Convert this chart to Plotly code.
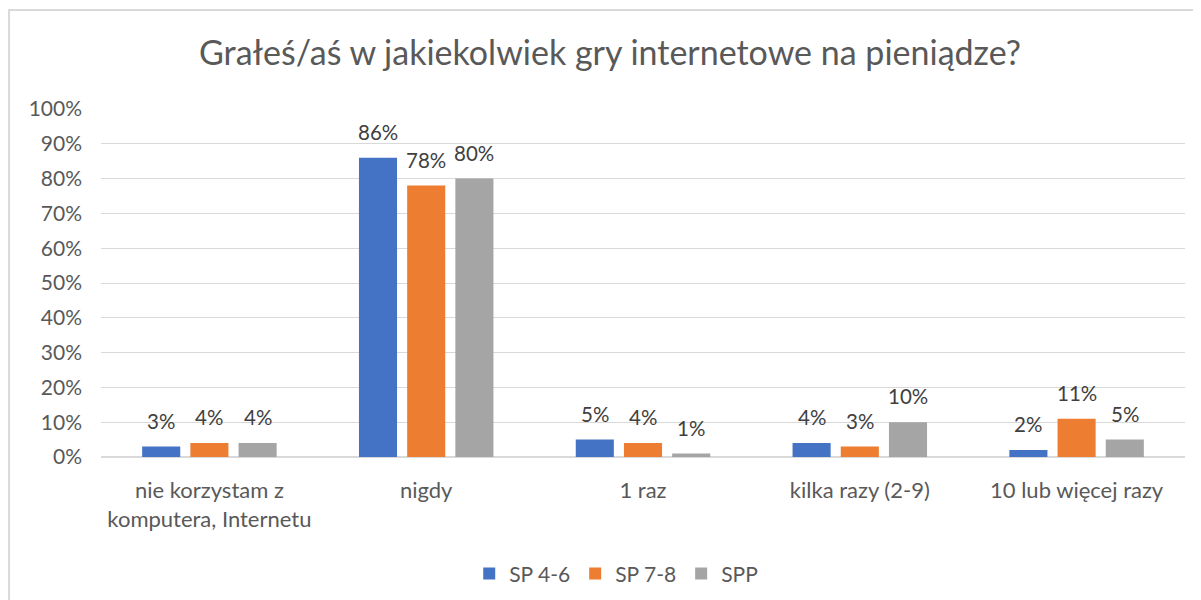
import plotly.graph_objects as go

categories = ["nie korzystam z<br>komputera, Internetu", "nigdy", "1 raz", "kilka razy (2-9)", "10 lub więcej razy"]
series_names = ["SP 4-6", "SP 7-8", "SPP"]
sp46 = [0.03, 0.86, 0.05, 0.04, 0.02]
sp78 = [0.04, 0.78, 0.04, 0.03, 0.11]
spp = [0.04, 0.80, 0.01, 0.10, 0.05]
colors = ["#4472C4", "#ED7D31", "#A5A5A5"]
y_ticks = [i / 10 for i in range(11)]

FONT = "Lato, Open Sans, sans-serif"
BARGAP = 0.333
BARGROUPGAP = 0.21

all_series = [sp46, sp78, spp]
fig = go.Figure()
for name, vals, col in zip(series_names, all_series, colors):
    fig.add_trace(go.Bar(
        x=categories, y=vals, name=name, marker=dict(color=col, line=dict(width=0)),
        hoverinfo="x+y+name",
    ))

# data labels as annotations above each bar
annotations = []
nser = len(all_series)
slot = (1 - BARGAP) / nser
for k, vals in enumerate(all_series):
    for i, v in enumerate(vals):
        annotations.append(dict(
            x=i + (k - (nser - 1) / 2) * slot, y=v, xref="x", yref="y",
            text=f"{round(v*100)}%", showarrow=False, yanchor="middle", yshift=26,
            font=dict(size=20.5, color="#404040", family=FONT),
        ))

fig.update_layout(
    width=1193, height=592,
    paper_bgcolor="white", plot_bgcolor="white",
    margin=dict(l=92.5, r=16, t=100.7, b=142.5, pad=0, autoexpand=False),
    title=dict(text="Grałeś/aś w jakiekolwiek gry internetowe na pieniądze?",
               x=0.5046, xanchor="center", y=0.924, yanchor="middle",
               font=dict(size=34, color="#595959", family=FONT)),
    barmode="group", bargap=BARGAP, bargroupgap=BARGROUPGAP,
    font=dict(family=FONT, color="#595959", size=21),
    legend=dict(orientation="h", x=0.4753, xanchor="center", y=-0.336, yanchor="middle",
                font=dict(size=21, color="#595959"), traceorder="normal"),
    yaxis=dict(range=[0, 1], tickvals=y_ticks, tickformat=".0%", gridcolor="#D9D9D9",
               gridwidth=1, zeroline=True, zerolinecolor="#D9D9D9", zerolinewidth=1.5,
               showline=False, ticks="", ticklabelstandoff=18, automargin=False,
               tickfont=dict(size=21, color="#595959"), fixedrange=True),
    xaxis=dict(showline=False, ticks="", ticklabelstandoff=18, automargin=False,
               tickfont=dict(size=22, color="#595959"), tickangle=0),
    annotations=annotations,
    shapes=[dict(type="rect", xref="paper", yref="paper", x0=-0.0848, x1=1.03, y0=-0.45, y1=1.2844,
                 line=dict(color="#D9D9D9", width=2), fillcolor="rgba(0,0,0,0)", layer="below")],
)

fig.write_html("out.html")
